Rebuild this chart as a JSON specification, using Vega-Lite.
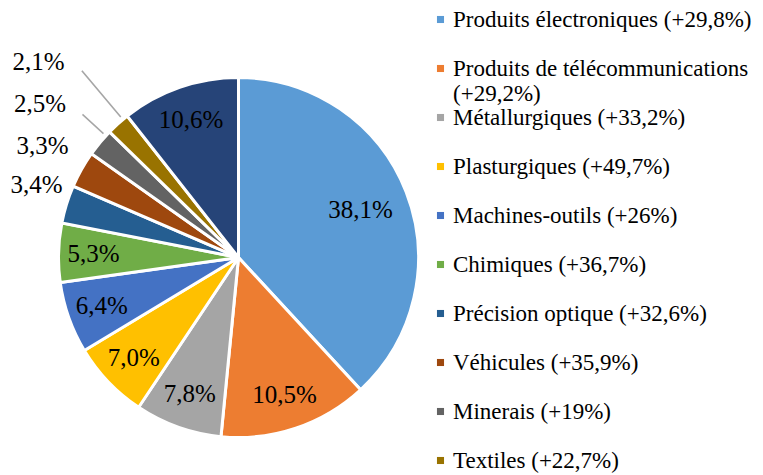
{
  "$schema": "https://vega.github.io/schema/vega-lite/v6.json",
  "width": 477,
  "height": 515,
  "padding": 0,
  "autosize": {"type": "pad"},
  "background": "white",
  "view": {"stroke": null},
  "config": {"font": "Liberation Serif"},
  "data": {
    "values": [
      {"idx": 1, "cat": "Produits électroniques (+29,8%)", "value": 38.1, "label": "38,1%"},
      {"idx": 2, "cat": "Produits de télécommunications (+29,2%)", "value": 13.4, "label": "10,5%"},
      {"idx": 3, "cat": "Métallurgiques (+33,2%)", "value": 7.8, "label": "7,8%"},
      {"idx": 4, "cat": "Plasturgiques (+49,7%)", "value": 7.0, "label": "7,0%"},
      {"idx": 5, "cat": "Machines-outils (+26%)", "value": 6.4, "label": "6,4%"},
      {"idx": 6, "cat": "Chimiques (+36,7%)", "value": 5.3, "label": "5,3%"},
      {"idx": 7, "cat": "Précision optique (+32,6%)", "value": 3.4, "label": "3,4%"},
      {"idx": 8, "cat": "Véhicules (+35,9%)", "value": 3.3, "label": "3,3%"},
      {"idx": 9, "cat": "Minerais (+19%)", "value": 2.5, "label": "2,5%"},
      {"idx": 10, "cat": "Textiles (+22,7%)", "value": 2.1, "label": "2,1%"},
      {"idx": 11, "cat": "Autres", "value": 10.6, "label": "10,6%"}
    ]
  },
  "transform": [
    {"stack": "value", "groupby": [], "sort": [{"field": "idx", "order": "ascending"}], "as": ["v0", "v1"]}
  ],
  "layer": [
    {
      "mark": {"type": "arc", "radius": 180, "stroke": "white", "strokeWidth": 3},
      "encoding": {
        "theta": {"field": "v0", "type": "quantitative", "scale": {"domain": [0, 99.9]}},
        "theta2": {"field": "v1"},
        "color": {
          "field": "cat",
          "type": "nominal",
          "scale": {
            "domain": ["Produits électroniques (+29,8%)", "Produits de télécommunications (+29,2%)", "Métallurgiques (+33,2%)", "Plasturgiques (+49,7%)", "Machines-outils (+26%)", "Chimiques (+36,7%)", "Précision optique (+32,6%)", "Véhicules (+35,9%)", "Minerais (+19%)", "Textiles (+22,7%)", "Autres"],
            "range": ["#5B9BD5", "#ED7D31", "#A5A5A5", "#FFC000", "#4472C4", "#70AD47", "#255E91", "#9E480E", "#636363", "#997300", "#264478"]
          },
          "legend": {
            "title": null,
            "orient": "none",
            "legendX": 429,
            "legendY": 8,
            "values": ["Produits électroniques (+29,8%)", "Produits de télécommunications (+29,2%)", "Métallurgiques (+33,2%)", "Plasturgiques (+49,7%)", "Machines-outils (+26%)", "Chimiques (+36,7%)", "Précision optique (+32,6%)", "Véhicules (+35,9%)", "Minerais (+19%)", "Textiles (+22,7%)"],
            "labelExpr": "datum.label == 'Produits de télécommunications (+29,2%)' ? ['Produits de télécommunications', '(+29,2%)'] : datum.label",
            "gridAlign": "all",
            "symbolType": "square",
            "symbolSize": 50,
            "symbolStrokeWidth": 0,
            "labelFont": "Liberation Serif",
            "labelFontSize": 23,
            "labelColor": "black",
            "labelOffset": 1,
            "labelLimit": 400,
            "rowPadding": -1
          }
        }
      }
    },
    {
      "transform": [{"filter": "datum.idx == 10"}],
      "mark": {"type": "arc", "radius": 243, "radius2": 184, "thetaOffset": 0.1012, "theta2Offset": -0.0314, "fillOpacity": 0, "stroke": "#A6A6A6", "strokeWidth": 1.5},
      "encoding": {
        "theta": {"field": "v0", "type": "quantitative"},
        "theta2": {"field": "v1"}
      }
    },
    {
      "transform": [{"filter": "datum.idx == 9"}],
      "mark": {"type": "arc", "radius": 211, "radius2": 184, "thetaOffset": 0.1274, "theta2Offset": -0.0297, "fillOpacity": 0, "stroke": "#A6A6A6", "strokeWidth": 1.5},
      "encoding": {
        "theta": {"field": "v0", "type": "quantitative"},
        "theta2": {"field": "v1"}
      }
    },
    {
      "mark": {"type": "text", "radius": 131, "fontSize": 25, "color": "black", "font": "Liberation Serif"},
      "encoding": {
        "theta": {"field": "value", "type": "quantitative", "stack": true},
        "order": {"field": "idx", "type": "quantitative"},
        "detail": {"field": "cat", "type": "nominal"},
        "text": {"condition": {"test": "datum.idx == 1", "field": "label"}, "value": ""}
      }
    },
    {
      "mark": {"type": "text", "radius": 145, "fontSize": 25, "color": "black", "font": "Liberation Serif"},
      "encoding": {
        "theta": {"field": "value", "type": "quantitative", "stack": true},
        "order": {"field": "idx", "type": "quantitative"},
        "detail": {"field": "cat", "type": "nominal"},
        "text": {"condition": {"test": "indexof([2,3,4,5,6,11], datum.idx) >= 0", "field": "label"}, "value": ""}
      }
    },
    {
      "transform": [{"filter": "datum.idx == 7"}],
      "mark": {"type": "text", "radius": 220, "dy": 15, "fontSize": 25, "color": "black", "font": "Liberation Serif"},
      "encoding": {
        "theta": {"field": "v1", "type": "quantitative"},
        "text": {"field": "label"}
      }
    },
    {
      "transform": [{"filter": "datum.idx == 8"}],
      "mark": {"type": "text", "radius": 240, "dy": 27, "fontSize": 25, "color": "black", "font": "Liberation Serif"},
      "encoding": {
        "theta": {"field": "v1", "type": "quantitative"},
        "text": {"field": "label"}
      }
    },
    {
      "transform": [{"filter": "datum.idx == 9"}],
      "mark": {"type": "text", "radius": 243, "dy": -13.5, "fontSize": 25, "color": "black", "font": "Liberation Serif"},
      "encoding": {
        "theta": {"field": "v0", "type": "quantitative"},
        "text": {"field": "label"}
      }
    },
    {
      "transform": [{"filter": "datum.idx == 10"}],
      "mark": {"type": "text", "radius": 279, "dy": -1, "fontSize": 25, "color": "black", "font": "Liberation Serif"},
      "encoding": {
        "theta": {"field": "v0", "type": "quantitative"},
        "text": {"field": "label"}
      }
    }
  ]
}
